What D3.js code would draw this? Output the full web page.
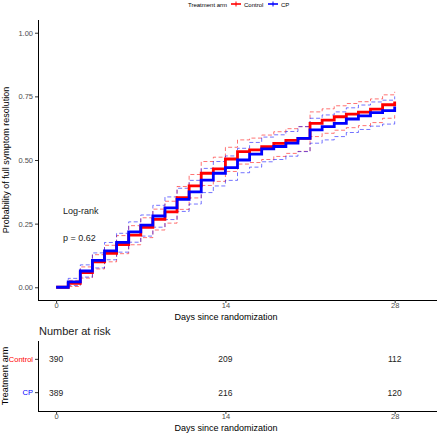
<!DOCTYPE html>
<html><head><meta charset="utf-8">
<script src="https://cdn.jsdelivr.net/npm/d3@7"></script>
<style>body{margin:0;background:#fff}svg{display:block;font-family:"Liberation Sans",Arial,sans-serif}</style>
</head><body><svg id="c" width="440" height="433"></svg>
<script>
const days = d3.range(0, 29);
const controlVals = [0,0.015,0.058,0.100,0.133,0.168,0.205,0.235,0.267,0.296,0.352,0.398,0.448,0.465,0.504,0.533,0.540,0.552,0.565,0.577,0.585,0.644,0.657,0.670,0.680,0.688,0.700,0.717,0.730];
const controlLower = [0,0.003,0.036,0.072,0.100,0.132,0.167,0.195,0.225,0.252,0.306,0.351,0.400,0.416,0.455,0.484,0.490,0.502,0.514,0.526,0.534,0.592,0.605,0.617,0.627,0.635,0.647,0.664,0.676];
const controlUpper = [0,0.027,0.080,0.128,0.165,0.203,0.242,0.273,0.307,0.338,0.396,0.443,0.494,0.511,0.550,0.579,0.586,0.598,0.611,0.623,0.631,0.689,0.701,0.713,0.722,0.729,0.740,0.756,0.768];
const cpVals = [0,0.021,0.064,0.106,0.143,0.176,0.218,0.244,0.280,0.312,0.345,0.375,0.421,0.448,0.470,0.500,0.523,0.544,0.553,0.566,0.585,0.618,0.631,0.644,0.661,0.673,0.686,0.694,0.710];
const cpLower = [0,0.007,0.040,0.076,0.108,0.138,0.177,0.201,0.236,0.266,0.298,0.327,0.372,0.398,0.420,0.450,0.472,0.493,0.502,0.515,0.533,0.566,0.579,0.592,0.608,0.620,0.633,0.641,0.656];
const cpUpper = [0,0.035,0.088,0.135,0.176,0.212,0.257,0.284,0.322,0.355,0.389,0.420,0.467,0.494,0.516,0.546,0.569,0.590,0.599,0.612,0.631,0.664,0.677,0.689,0.705,0.716,0.728,0.735,0.750];
const groups = ["Control","CP"];
const groupColors = ["#FF0000","#0000FF"];
const riskTimes = [0,14,28];
const riskControl = [390,209,112];
const riskCP = [389,216,120];
const xTicks = [0,14,28];
const yTicks = [0,0.25,0.5,0.75,1];

const svg = d3.select("#c");
const x = d3.scaleLinear().domain([-1.5,31.5]).range([38,437]);
const y = d3.scaleLinear().domain([-0.05,1.05]).range([300,20]);
const tickCol = "#4d4d4d";

const gy = svg.append("g").attr("transform","translate(38,0)")
  .call(d3.axisLeft(y).tickValues(yTicks).tickFormat(d3.format(".2f")).tickSize(3).tickPadding(2));
const gx = svg.append("g").attr("transform","translate(0,300)")
  .call(d3.axisBottom(x).tickValues(xTicks).tickSize(3).tickPadding(0));
[gy,gx].forEach(g=>{
  g.select(".domain").attr("stroke","#000").attr("stroke-width",1).attr("d", g===gy ? "M0.5,20V300.5" : "M38,0.5H437");
  g.selectAll(".tick line").attr("stroke","#333");
  g.selectAll(".tick text").attr("fill",tickCol).attr("font-size",7.5).attr("font-family","Liberation Sans, Arial, sans-serif");
});

svg.append("text").attr("transform","translate(9,160) rotate(-90)").attr("text-anchor","middle")
  .attr("font-size",9).text("Probability of full symptom resolution");
svg.append("text").attr("x",226).attr("y",320).attr("text-anchor","middle").attr("font-size",9).text("Days since randomization");

const line = d3.line().x((d,i)=>x(days[i])).y(d=>y(d)).curve(d3.curveStepAfter);
const series = [
  {vals:controlVals, lo:controlLower, hi:controlUpper, col:groupColors[0]},
  {vals:cpVals, lo:cpLower, hi:cpUpper, col:groupColors[1]}
];
series.forEach(s=>{
  [s.lo,s.hi].forEach(arr=>{
    svg.append("path").datum(arr).attr("d",line).attr("fill","none")
      .attr("stroke",s.col).attr("stroke-opacity",0.55).attr("stroke-width",1).attr("stroke-dasharray","4,2.5");
  });
});
series.forEach(s=>{
  svg.append("path").datum(s.vals).attr("d",line).attr("fill","none")
    .attr("stroke",s.col).attr("stroke-width",2.8);
});

svg.append("text").attr("x",63).attr("y",214).attr("font-size",9).attr("fill","#222").text("Log-rank");
svg.append("text").attr("x",63).attr("y",241).attr("font-size",9).attr("fill","#222").text("p = 0.62");

const lg = svg.append("g");
lg.append("text").attr("x",188).attr("y",7).attr("font-size",6).text("Treatment arm");
const legX = [231,268];
groups.forEach((g,i)=>{
  const lx = legX[i];
  lg.append("line").attr("x1",lx).attr("x2",lx+10).attr("y1",4).attr("y2",4).attr("stroke",groupColors[i]).attr("stroke-width",1.6);
  lg.append("line").attr("x1",lx+5).attr("x2",lx+5).attr("y1",1.5).attr("y2",6.5).attr("stroke",groupColors[i]).attr("stroke-width",1);
  lg.append("text").attr("x",lx+13).attr("y",7).attr("font-size",6).text(g);
});

svg.append("text").attr("x",39).attr("y",335).attr("font-size",11).attr("fill","#222").text("Number at risk");
const yr = d3.scaleBand().domain(groups).range([341,411]).paddingOuter(0.05);
const gyr = svg.append("g").attr("transform","translate(38,0)")
  .call(d3.axisLeft(yr).tickSize(3).tickPadding(2));
const gxr = svg.append("g").attr("transform","translate(0,411)")
  .call(d3.axisBottom(x).tickValues(xTicks).tickSize(3).tickPadding(0));
gyr.select(".domain").attr("stroke","#000").attr("d","M0.5,341V411.5");
gxr.select(".domain").attr("stroke","#000").attr("d","M38,0.5H437");
[gyr,gxr].forEach(g=>{
  g.selectAll(".tick line").attr("stroke","#333");
  g.selectAll(".tick text").attr("fill",tickCol).attr("font-size",7.5).attr("font-family","Liberation Sans, Arial, sans-serif");
});
gyr.selectAll(".tick text").attr("fill",(d,i)=>groupColors[i]).attr("font-size",7.5);
const riskRows = [riskControl, riskCP];
groups.forEach((g,gi)=>{
  riskRows[gi].forEach((n,i)=>{
    svg.append("text").attr("x",x(riskTimes[i])).attr("y",yr(g)+yr.bandwidth()/2+3).attr("text-anchor","middle")
      .attr("font-size",8.5).attr("fill","#222").text(n);
  });
});
svg.append("text").attr("transform","translate(8,376) rotate(-90)").attr("text-anchor","middle")
  .attr("font-size",9).text("Treatment arm");
svg.append("text").attr("x",226).attr("y",431).attr("text-anchor","middle").attr("font-size",9).text("Days since randomization");
</script></body></html>
